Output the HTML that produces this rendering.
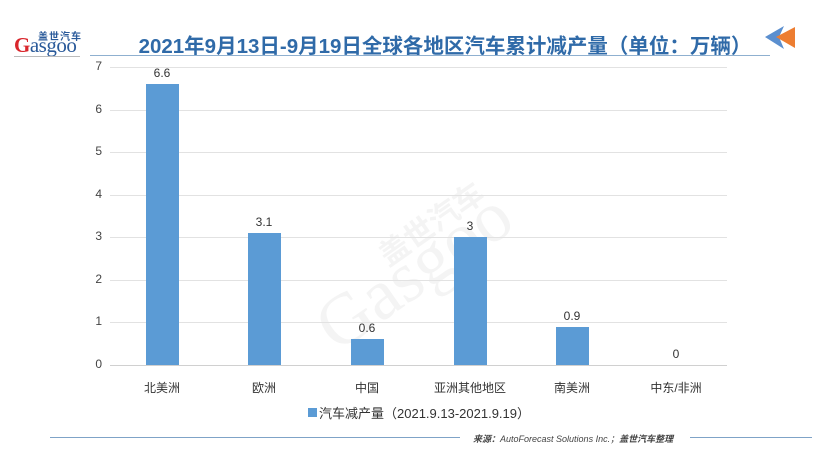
<!DOCTYPE html>
<html><head><meta charset="utf-8"><style>
body{margin:0;width:820px;height:461px;background:#fff;position:relative;overflow:hidden;font-family:"Liberation Sans","Noto Sans CJK SC",sans-serif;}
.a{position:absolute;}
.g{position:absolute;left:110px;width:617px;height:1px;background:#e2e2e2;}
.yl{position:absolute;left:88px;width:14px;text-align:right;font-size:12px;color:#444;}
.bar{position:absolute;width:33px;background:#5b9bd5;}
.v{position:absolute;width:60px;text-align:center;font-size:12px;color:#333;}
.c{position:absolute;width:100px;text-align:center;font-size:12px;color:#333;top:379px;}
</style></head><body>
<div class="a" style="left:38px;top:28px;font-size:10px;font-weight:bold;color:#2a5a9a;letter-spacing:1px">盖世汽车</div>
<div class="a" style="left:14px;top:33px;font-family:'Liberation Serif',serif;font-size:21px;color:#2a5a9a;letter-spacing:-0.5px"><span style="color:#d9262c;font-weight:bold">G</span>asgoo</div>
<div class="a" style="left:14px;top:56px;width:66px;height:1px;background:#bbb"></div>
<div class="a" style="left:95px;top:29px;width:700px;text-align:center;font-size:20.5px;font-weight:bold;color:#2f6aa8;white-space:nowrap">2021年9月13日-9月19日全球各地区汽车累计减产量（单位：万辆）</div>
<div class="a" style="left:90px;top:55px;width:680px;height:1px;background:#8fb0d0"></div>
<svg class="a" style="left:762px;top:24px" width="40" height="30"><polygon points="3,13 22,2 17,13 22,25" fill="#5b8fcf"/><polygon points="14,13 33,3 33,24" fill="#ed7d31"/></svg>
<div class="a" style="left:300px;font-family:'Liberation Serif',serif;font-size:72px;color:#f4f4f4;transform:rotate(-35deg);transform-origin:left top;top:300px">Gasgoo</div>
<div class="a" style="left:370px;top:200px;font-size:30px;color:#f4f4f4;transform:rotate(-35deg);font-weight:bold">盖世汽车</div>
<div class="g" style="top:67px"></div><div class="g" style="top:110px"></div><div class="g" style="top:152px"></div><div class="g" style="top:195px"></div><div class="g" style="top:237px"></div><div class="g" style="top:280px"></div><div class="g" style="top:322px"></div><div class="g" style="top:365px;background:#d0d0d0"></div>
<div class="yl" style="top:59px">7</div><div class="yl" style="top:102px">6</div><div class="yl" style="top:144px">5</div><div class="yl" style="top:187px">4</div><div class="yl" style="top:229px">3</div><div class="yl" style="top:272px">2</div><div class="yl" style="top:314px">1</div><div class="yl" style="top:357px">0</div>
<div class="bar" style="left:146px;top:84px;height:281px"></div>
<div class="bar" style="left:248px;top:233px;height:132px"></div>
<div class="bar" style="left:351px;top:339px;height:26px"></div>
<div class="bar" style="left:454px;top:237px;height:128px"></div>
<div class="bar" style="left:556px;top:327px;height:38px"></div>
<div class="v" style="left:132px;top:66px">6.6</div>
<div class="v" style="left:234px;top:215px">3.1</div>
<div class="v" style="left:337px;top:321px">0.6</div>
<div class="v" style="left:440px;top:219px">3</div>
<div class="v" style="left:542px;top:309px">0.9</div>
<div class="v" style="left:646px;top:347px">0</div>
<div class="c" style="left:112px">北美洲</div><div class="c" style="left:214px">欧洲</div><div class="c" style="left:317px">中国</div><div class="c" style="left:420px">亚洲其他地区</div><div class="c" style="left:522px">南美洲</div><div class="c" style="left:626px">中东/非洲</div>
<div class="a" style="left:308px;top:408px;width:9px;height:9px;background:#5b9bd5"></div>
<div class="a" style="left:319px;top:403px;font-size:13px;color:#333">汽车减产量（2021.9.13-2021.9.19）</div>
<div class="a" style="left:50px;top:437px;width:410px;height:1px;background:#7fa3c7"></div>
<div class="a" style="left:690px;top:437px;width:122px;height:1px;background:#7fa3c7"></div>
<div class="a" style="left:473px;top:432px;font-size:9px;font-style:italic;color:#444;white-space:nowrap"><b>来源：</b>AutoForecast Solutions Inc.；<b>盖世汽车整理</b></div>
</body></html>
